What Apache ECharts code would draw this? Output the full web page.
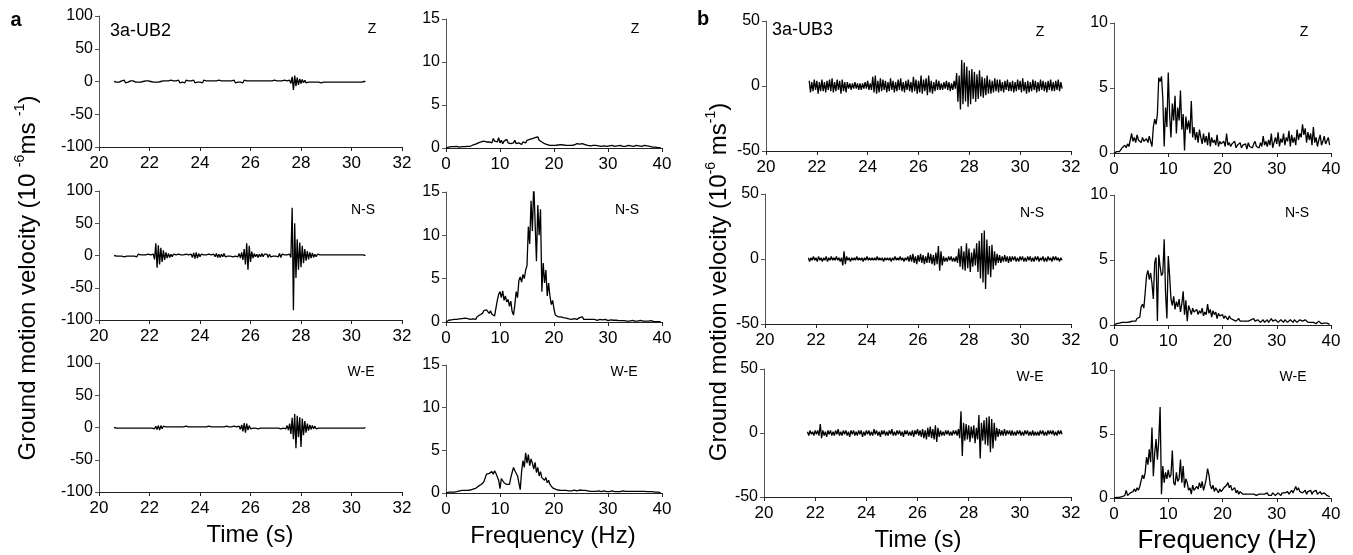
<!DOCTYPE html>
<html><head><meta charset="utf-8">
<script src="https://cdn.jsdelivr.net/npm/echarts@6/dist/echarts.min.js"></script>
<style>html,body{margin:0;padding:0;background:#fff}#c{width:1353px;height:555px}</style>
</head><body><div id="c"></div>
<script>
// ---------- DATA ----------
const timeStartUB2 = 20.6;   // s
const timeStartUB3 = 21.7;   // s
const timeStep = 0.05;       // s
const freqStep = 0.25;       // Hz
const timeTicksUB2 = [-100, -50, 0, 50, 100];
const timeTicksUB3 = [-50, 0, 50];
const specTicksUB2 = [0, 5, 10, 15];
const specTicksUB3 = [0, 5, 10];
const components = ['Z', 'N-S', 'W-E'];

const ub2_Z = [
0,1,-1,1,-1,0,1,-1,2,-2,
1,-1,0,1,-1,1,0,-1,1,-1,
1,-1,1,0,-1,1,-1,1,-1,0,
1,-1,2,-1,1,-1,1,0,-1,1,
-1,1,-2,1,-1,2,-1,1,-1,1,
-1,2,-2,1,-1,1,-2,2,-1,1,
-1,1,-1,2,-2,1,-1,1,-1,1,
-2,2,-1,1,-1,1,-2,1,-1,1,
-1,1,-1,2,-1,1,-1,1,-2,1,
-1,1,-1,1,-1,2,-2,1,-1,1,
-1,1,-2,2,-1,1,-1,1,-1,1,
-1,1,-1,1,-2,1,-1,1,-1,1,
-1,1,-1,1,-1,1,-1,2,-1,1,
-1,1,-1,1,-1,2,-1,1,-2,2,
-3,7,-13,9,-7,6,-5,4,-3,3,
-2,2,-2,1,-1,2,-1,1,-1,1,
-1,1,-1,1,-2,1,-1,1,-1,1,
-1,1,-1,1,-1,1,-1,1,-1,1,
-1,1,-1,2,-1,1,-1,1,-1,1,
-1,1,-1,1,-1,1,-1,1,0,0];

const ub2_NS = [
0,1,-1,1,-1,2,-1,1,-2,1,
-1,1,-1,2,-1,1,-1,1,-2,2,
-1,1,-1,1,-2,1,-1,2,-1,1,
-2,2,-6,19,-19,16,-14,12,-10,8,
-7,5,-4,3,-3,2,-2,2,-1,1,
-2,2,-1,1,-2,1,-1,2,-1,1,
-2,2,-3,4,-5,5,-4,3,-2,2,
-1,1,-2,1,-1,2,-1,1,-2,2,
-2,3,-3,2,-3,2,-2,3,-2,1,
-1,2,-1,1,-2,1,-1,2,-2,3,
-4,5,-7,10,-14,19,-22,15,-10,6,
-4,3,-2,2,-3,2,-2,3,-2,2,
-1,2,-3,2,-2,1,-1,2,-1,2,
-2,3,-3,2,-1,1,-2,1,-1,2,
-3,74,-85,50,-35,25,-22,20,-18,15,
-12,10,-8,7,-6,5,-4,4,-3,2,
-2,2,-1,1,-1,1,-2,1,-1,1,
-1,1,-1,1,-1,1,-1,1,-1,1,
-1,1,-1,1,-1,1,-1,1,-1,1,
-1,1,-1,1,-1,1,-1,1,-1,0];

const ub2_WE = [
0,1,-1,1,-1,1,-1,1,-1,1,
-1,1,-1,1,-1,1,-1,1,-1,1,
-1,1,-1,1,-1,2,-1,1,-1,1,
-1,1,-2,2,-3,3,-4,3,-2,2,
-1,1,-1,1,-1,1,-1,1,-1,1,
-1,1,-2,1,-1,1,-1,2,-1,1,
-1,1,-1,1,-1,1,-2,1,-1,1,
-1,1,-1,1,-1,2,-1,1,-1,1,
-1,1,-2,1,-1,1,-1,1,-1,2,
-1,1,-1,1,-2,2,-1,1,-2,2,
-3,4,-6,7,-8,6,-4,3,-2,1,
-1,1,-1,1,-2,1,-1,1,-1,1,
-1,1,-1,2,-1,1,-1,1,-1,1,
-1,1,-2,1,-1,2,-2,3,-4,6,
-10,15,-18,21,-32,18,-15,16,-30,14,
-12,10,-8,6,-5,4,-3,3,-2,2,
-2,1,-1,2,-1,1,-1,1,-1,1,
-1,1,-1,1,-1,1,-1,1,-1,1,
-1,1,-1,1,-1,1,-1,1,-1,1,
-1,1,-1,1,-1,1,-1,1,-1,0];

const ub3_Z = [
4,-5,3,-4,5,-3,4,-6,3,-4,
5,-4,3,-5,4,-3,5,-4,6,-5,
3,-4,5,-3,4,-6,5,-4,3,-5,
3,-2,2,-3,2,-2,3,-2,2,-3,
2,-3,2,-2,3,-2,4,-3,2,-3,
7,-5,8,-6,4,-5,6,-4,5,-3,
4,-5,3,-4,6,-3,4,-5,3,-4,
5,-3,6,-4,3,-5,4,-3,5,-4,
3,-5,7,-4,5,-6,4,-5,8,-6,
5,-4,6,-7,8,-5,4,-6,3,-4,
5,-3,4,-3,2,-3,3,-2,4,-3,
3,-4,2,-3,4,-2,10,-12,8,-18,
20,-14,18,-12,15,-16,12,-14,13,-10,
11,-12,9,-10,12,-8,7,-9,6,-7,
8,-6,5,-6,4,-5,6,-4,5,-5,
5,-4,3,-5,4,-3,5,-4,3,-4,
4,-5,3,-4,5,-3,4,-5,6,-4,
3,-6,4,-5,3,-4,5,-3,4,-5,
3,-4,5,-3,4,-4,3,-5,4,-3,
5,-4,3,-4,4,-3,5,-4,3,-2];

const ub3_NS = [
1,-2,1,-1,2,-1,1,-2,2,-1,
1,-2,1,-1,2,-2,1,-1,2,-1,
1,-1,2,-1,1,-2,1,-5,6,-4,
2,-1,1,-2,1,-1,1,-1,2,-1,
1,-1,1,-2,1,-1,2,-1,1,-1,
1,-1,1,-1,2,-1,1,-1,1,-2,
1,-1,1,-1,1,-2,1,-1,2,-1,
1,-1,2,-1,1,-2,1,-1,2,-2,
3,-2,4,-3,2,-4,3,-2,4,-3,
3,-4,2,-3,5,-3,4,-4,3,-5,
5,-4,10,-9,6,-5,2,-2,1,-2,
2,-1,2,-2,1,-2,2,-3,8,-6,
10,-8,6,-9,12,-7,8,-10,5,-6,
8,-5,12,-10,14,-15,20,-18,22,-23,
15,-12,10,-14,11,-8,6,-5,4,-3,
3,-3,2,-2,3,-2,2,-3,2,-2,
2,-1,2,-2,1,-2,2,-1,2,-2,
1,-2,2,-1,2,-2,1,-2,2,-1,
2,-2,1,-1,2,-2,1,-2,2,-1,
1,-2,2,-1,2,-1,1,-2,1,-1];

const ub3_WE = [
1,-2,2,-1,1,-2,2,-1,2,-2,
7,-4,2,-2,1,-3,2,-1,2,-2,
1,-2,2,-1,3,-2,1,-2,2,-1,
2,-2,1,-3,2,-1,2,-2,1,-2,
2,-1,2,-3,1,-2,2,-1,2,-2,
1,-2,3,-1,2,-2,1,-3,2,-1,
2,-2,1,-2,2,-1,3,-2,1,-2,
2,-1,2,-2,1,-3,2,-1,2,-2,
1,-2,2,-3,2,-1,3,-2,2,-3,
3,-4,2,-5,4,-3,5,-4,3,-5,
6,-7,4,-3,2,-2,1,-2,2,-1,
2,-2,1,-2,2,-1,2,-2,3,-4,
17,-18,8,-6,7,-5,6,-7,5,-4,
6,-8,4,-5,14,-20,8,-6,10,-9,
12,-10,13,-15,11,-12,8,-6,4,-3,
3,-2,2,-2,3,-2,2,-1,2,-2,
2,-2,1,-2,2,-1,2,-2,1,-2,
2,-1,2,-2,1,-2,2,-2,1,-2,
1,-2,2,-1,2,-2,1,-2,2,-1,
2,-1,2,-2,1,-2,2,-1,2,-1];

const ub2_Z_spec = [
0,0.05,0.1,0.1,0.15,0.1,0.15,0.1,0.2,0.15,0.1,0.2,0.15,0.2,0.15,0.2,
0.2,0.25,0.2,0.3,0.35,0.3,0.45,0.4,0.6,0.5,0.7,0.6,0.8,0.6,0.7,0.9,
0.7,0.9,0.6,1.1,0.8,1.0,0.7,1.2,0.6,0.9,0.5,0.8,0.7,1.0,0.6,0.8,
0.5,0.7,0.6,0.9,0.5,0.7,0.6,0.8,0.4,0.7,0.8,0.6,0.9,0.7,1.0,0.8,
1.1,0.9,1.2,1.0,1.3,0.9,1.1,0.7,0.8,0.5,0.6,0.4,0.5,0.3,0.4,0.3,
0.35,0.3,0.25,0.35,0.3,0.4,0.3,0.35,0.25,0.3,0.35,0.3,0.4,0.3,0.5,0.35,
0.4,0.5,0.3,0.45,0.35,0.5,0.3,0.4,0.35,0.3,0.4,0.25,0.35,0.3,0.25,0.3,
0.3,0.25,0.4,0.2,0.3,0.25,0.35,0.2,0.3,0.25,0.2,0.3,0.25,0.2,0.3,0.25,
0.2,0.3,0.25,0.2,0.3,0.2,0.25,0.3,0.2,0.25,0.3,0.2,0.25,0.3,0.35,0.25,
0.3,0.2,0.25,0.3,0.2,0.25,0.15,0.2,0.15,0.1,0.15,0.1,0.1,0.05,0.1,0.05];

const ub2_NS_spec = [
0,0.1,0.2,0.3,0.25,0.35,0.3,0.4,0.3,0.45,0.35,0.3,0.4,0.35,0.45,0.3,
0.4,0.35,0.3,0.5,0.35,0.4,0.3,0.6,0.5,0.8,0.7,1.0,1.3,1.1,1.4,1.2,
1.0,1.3,0.9,1.1,0.7,0.6,2.5,3.2,3.5,2.8,3.6,2.5,3.0,2.3,2.6,1.8,
2.4,1.2,0.8,2.0,3.5,2.8,4.8,5.2,4.6,5.5,5.0,6.0,6.5,11.0,9.0,14.0,
10.5,16.0,11.5,7.0,13.5,10.0,13.0,3.5,6.8,4.5,6.0,3.0,4.5,3.0,2.0,2.5,
1.5,0.8,0.7,0.6,0.5,0.6,0.45,0.5,0.4,0.45,0.4,0.35,0.4,0.3,0.35,0.4,
0.35,0.3,0.4,0.5,0.35,0.6,0.3,0.35,0.3,0.4,0.3,0.25,0.3,0.25,0.3,0.25,
0.2,0.25,0.3,0.2,0.25,0.2,0.3,0.2,0.15,0.2,0.25,0.15,0.2,0.15,0.2,0.15,
0.15,0.2,0.15,0.1,0.15,0.2,0.1,0.15,0.1,0.15,0.2,0.15,0.1,0.15,0.1,0.15,
0.2,0.15,0.1,0.15,0.1,0.15,0.1,0.1,0.15,0.1,0.05,0.1,0.05,0.1,0.05,0.05];

const ub2_WE_spec = [
0,0.05,0.1,0.1,0.1,0.15,0.1,0.2,0.15,0.2,0.25,0.2,0.3,0.25,0.3,0.35,
0.3,0.4,0.35,0.5,0.45,0.6,0.55,0.7,0.8,0.9,1.0,1.1,1.3,1.5,2.2,2.0,
2.3,2.1,2.5,2.2,2.6,2.3,2.5,1.5,0.5,1.7,1.5,1.2,1.4,1.0,0.8,1.0,
1.8,2.4,3.0,2.6,2.8,2.0,1.2,0.4,2.5,3.8,3.0,4.7,3.5,4.5,3.2,4.0,
3.5,2.8,3.6,2.4,3.0,2.0,2.5,1.8,2.0,1.5,1.8,1.2,1.5,1.0,0.8,0.6,
0.5,0.45,0.4,0.35,0.4,0.3,0.35,0.3,0.25,0.3,0.3,0.25,0.3,0.25,0.3,0.35,
0.3,0.25,0.3,0.35,0.4,0.3,0.25,0.3,0.2,0.25,0.3,0.2,0.25,0.2,0.25,0.2,
0.2,0.25,0.2,0.15,0.2,0.25,0.2,0.15,0.2,0.15,0.2,0.25,0.2,0.15,0.2,0.15,
0.2,0.15,0.2,0.25,0.15,0.2,0.15,0.2,0.15,0.2,0.15,0.2,0.25,0.2,0.15,0.2,
0.15,0.2,0.15,0.2,0.25,0.15,0.1,0.15,0.1,0.15,0.1,0.1,0.05,0.1,0.05,0.05];

const ub3_Z_spec = [
0,0.1,0.1,0.2,0.1,0.2,0.4,0.3,0.6,0.4,0.7,0.5,1.0,1.5,0.9,1.2,
0.8,1.4,1.0,1.1,0.8,1.2,0.9,1.0,1.1,0.8,1.3,0.9,0.5,2.0,2.6,2.2,
3.0,5.8,5.5,5.9,4.2,0.5,3.5,2.0,6.2,3.0,1.2,3.8,2.5,4.4,1.5,3.5,
2.5,4.8,1.8,3.0,0.2,2.8,1.8,2.5,1.5,4.0,1.2,2.0,1.0,1.6,0.8,1.8,
1.2,0.7,1.5,0.8,1.3,0.6,1.6,0.5,1.2,0.8,1.0,0.6,1.4,0.5,0.9,0.7,
0.6,0.9,0.5,1.5,0.6,0.8,0.5,0.7,0.6,0.9,0.4,0.6,0.5,0.8,0.4,0.6,
0.5,0.7,0.3,0.8,0.5,0.6,0.4,0.7,0.9,0.5,0.6,0.4,0.8,0.5,1.3,0.6,
0.9,0.5,1.0,0.6,1.5,0.4,0.8,1.2,0.7,1.6,0.5,1.1,0.8,1.5,0.6,1.2,
0.9,1.7,0.5,1.4,0.8,1.2,0.6,1.8,1.0,1.5,1.2,2.2,1.4,1.9,0.8,1.6,
1.0,1.5,0.6,2.0,0.8,1.2,0.5,1.0,1.4,0.6,0.9,1.3,0.7,0.8,1.2,0.6];

const ub3_NS_spec = [
0,0.05,0.1,0.1,0.15,0.1,0.2,0.15,0.2,0.25,0.2,0.3,0.25,0.35,0.3,0.4,
0.3,0.5,0.4,0.6,1.4,1.6,1.3,2.5,3.8,4.2,3.5,4.0,3.2,2.0,4.8,5.2,
0.3,5.4,4.5,3.8,4.0,6.6,2.5,0.5,5.3,3.8,2.0,1.5,2.2,1.2,1.8,1.4,
2.0,1.0,1.6,2.6,0.8,1.9,0.3,1.5,1.2,0.8,1.3,1.0,0.9,1.2,0.8,1.1,
0.9,1.3,0.7,1.0,0.8,1.6,0.9,1.2,0.6,1.1,0.8,1.0,0.5,0.9,0.7,0.6,
0.8,0.5,0.7,0.6,0.4,0.7,0.5,0.6,0.4,0.5,0.3,0.4,0.5,0.3,0.4,0.3,
0.2,0.3,0.4,0.3,0.2,0.4,0.3,0.5,0.3,0.2,0.4,0.3,0.2,0.3,0.4,0.2,
0.3,0.4,0.2,0.3,0.5,0.3,0.2,0.4,0.3,0.2,0.3,0.4,0.3,0.2,0.4,0.3,
0.2,0.3,0.4,0.3,0.2,0.4,0.3,0.2,0.3,0.4,0.5,0.3,0.2,0.4,0.3,0.2,
0.3,0.2,0.3,0.2,0.3,0.1,0.2,0.3,0.2,0.1,0.2,0.15,0.1,0.15,0.1,0.05];

const ub3_WE_spec = [
0,0.05,0.05,0.1,0.05,0.1,0.1,0.1,0.2,0.6,0.2,0.3,0.4,0.3,0.5,0.7,
0.5,0.8,0.6,0.9,0.8,1.8,1.5,2.0,3.2,2.6,3.8,2.8,5.5,1.7,3.5,4.6,
3.0,4.5,7.1,0.3,2.5,1.2,2.0,1.5,2.2,1.6,1.8,3.7,1.2,1.0,2.0,1.3,
1.5,3.0,1.2,2.5,0.8,1.5,1.2,0.6,0.8,0.3,1.0,0.6,0.5,0.9,0.7,1.2,
0.8,1.3,0.6,1.0,1.5,2.3,1.8,1.0,0.7,1.0,0.5,0.8,0.6,0.4,0.7,0.5,
0.6,0.8,0.9,1.0,1.2,0.8,1.0,0.6,0.5,0.8,0.4,0.6,0.3,0.5,0.4,0.3,
0.4,0.3,0.2,0.3,0.4,0.3,0.2,0.3,0.4,0.2,0.3,0.3,0.2,0.3,0.2,0.3,
0.3,0.4,0.2,0.3,0.2,0.4,0.3,0.2,0.3,0.4,0.3,0.2,0.4,0.3,0.4,0.3,
0.5,0.3,0.4,0.6,0.4,0.5,0.9,0.6,0.8,0.5,0.6,0.4,0.5,0.6,0.3,0.5,
0.4,0.6,0.3,0.5,0.4,0.6,0.3,0.4,0.5,0.3,0.2,0.4,0.3,0.2,0.1,0.1];

// ---------- CHART ----------
const FONT = '"Liberation Sans", Arial, Helvetica, sans-serif';
const timeX = {min: 20, max: 32, interval: 2};
const specX = {min: 0, max: 40, interval: 10};

const panels = [
  // panel a, time
  {vals: ub2_Z,  t0: timeStartUB2, step: timeStep, box: [99, 16, 303, 131], x: timeX, yt: timeTicksUB2},
  {vals: ub2_NS, t0: timeStartUB2, step: timeStep, box: [99, 191, 303, 129], x: timeX, yt: timeTicksUB2},
  {vals: ub2_WE, t0: timeStartUB2, step: timeStep, box: [99, 363, 303, 129], x: timeX, yt: timeTicksUB2},
  // panel a, spectra
  {vals: ub2_Z_spec,  t0: 0, step: freqStep, box: [446, 19, 216, 129], x: specX, yt: specTicksUB2},
  {vals: ub2_NS_spec, t0: 0, step: freqStep, box: [446, 192, 216, 130], x: specX, yt: specTicksUB2},
  {vals: ub2_WE_spec, t0: 0, step: freqStep, box: [446, 365, 216, 128], x: specX, yt: specTicksUB2},
  // panel b, time
  {vals: ub3_Z,  t0: timeStartUB3, step: timeStep, box: [766, 21, 305, 130], x: timeX, yt: timeTicksUB3},
  {vals: ub3_NS, t0: timeStartUB3, step: timeStep, box: [765, 194, 306, 130], x: timeX, yt: timeTicksUB3},
  {vals: ub3_WE, t0: timeStartUB3, step: timeStep, box: [764, 369, 307, 128], x: timeX, yt: timeTicksUB3},
  // panel b, spectra
  {vals: ub3_Z_spec,  t0: 0, step: freqStep, box: [1114, 23, 217, 130], x: specX, yt: specTicksUB3},
  {vals: ub3_NS_spec, t0: 0, step: freqStep, box: [1114, 195, 217, 130], x: specX, yt: specTicksUB3},
  {vals: ub3_WE_spec, t0: 0, step: freqStep, box: [1114, 370, 217, 128], x: specX, yt: specTicksUB3}
];

const axisLineStyle = {color: '#222', width: 1};
const grids = [], xAxes = [], yAxes = [], series = [];
panels.forEach((p, i) => {
  grids.push({left: p.box[0], top: p.box[1], width: p.box[2], height: p.box[3], containLabel: false});
  xAxes.push({
    type: 'value', gridIndex: i, min: p.x.min, max: p.x.max, interval: p.x.interval,
    axisLine: {show: true, onZero: false, lineStyle: axisLineStyle},
    axisTick: {show: true, length: 4, lineStyle: axisLineStyle},
    splitLine: {show: false},
    axisLabel: {color: '#000', fontSize: 17, fontFamily: FONT, margin: 8}
  });
  const yt = p.yt;
  yAxes.push({
    type: 'value', gridIndex: i, min: yt[0], max: yt[yt.length - 1], interval: yt[1] - yt[0],
    axisLine: {show: true, onZero: false, lineStyle: {color: '#555', width: 1}},
    axisTick: {show: true, length: 4, lineStyle: {color: '#555'}},
    splitLine: {show: false},
    axisLabel: {color: '#000', fontSize: 16, fontFamily: FONT, margin: 6}
  });
  series.push({
    type: 'line', xAxisIndex: i, yAxisIndex: i, symbol: 'none', showSymbol: false,
    sampling: null, animation: false,
    lineStyle: {color: '#000', width: 1.3},
    data: p.vals.map((v, k) => [+(p.t0 + k * p.step).toFixed(3), v])
  });
});

function txt(x, y, s, size, opts) {
  return Object.assign({type: 'text', x: x, y: y, silent: true,
    style: {text: s, fill: '#000', font: size + 'px ' + FONT, align: 'center', verticalAlign: 'middle'}}, opts || {});
}
function bold(x, y, s) {
  return {type: 'text', x: x, y: y, style: {text: s, fill: '#000', font: 'bold 20px ' + FONT, align: 'center', verticalAlign: 'middle'}};
}
function yTitle(x, y, s) {
  return {type: 'text', x: x, y: y, rotation: Math.PI / 2,
    style: {text: s, fill: '#000', fontSize: 24, fontFamily: FONT, align: 'center', verticalAlign: 'middle',
      lineHeight: 30,
      rich: {sup: {fontSize: 14, fontFamily: FONT, verticalAlign: 'top', lineHeight: 30, padding: [0, 0, 12, 0]}}}};
}

const graphics = [
  bold(16, 20, 'a'), bold(703, 19, 'b'),
  {type: 'text', x: 110, y: 31, style: {text: '3a-UB2', fill: '#000', font: '18px ' + FONT, align: 'left', verticalAlign: 'middle'}},
  {type: 'text', x: 772, y: 30, style: {text: '3a-UB3', fill: '#000', font: '18px ' + FONT, align: 'left', verticalAlign: 'middle'}},
  txt(372, 29, components[0], 14), txt(635, 29, components[0], 14),
  txt(363, 210, components[1], 14), txt(627, 210, components[1], 14),
  txt(361, 372, components[2], 14), txt(624, 372, components[2], 14),
  txt(1040, 32, components[0], 14), txt(1304, 32, components[0], 14),
  txt(1032, 213, components[1], 14), txt(1297, 213, components[1], 14),
  txt(1030, 377, components[2], 14), txt(1293, 377, components[2], 14),
  txt(250, 535, 'Time (s)', 24), txt(553, 536, 'Frequency (Hz)', 24),
  txt(918, 540, 'Time (s)', 24), txt(1227, 541, 'Frequency (Hz)', 26),
  yTitle(28, 278, 'Ground motion velocity (10 {sup|-6}ms {sup|-1})'),
  yTitle(719, 282, 'Ground motion velocity (10{sup|-6} ms{sup|-1})')
];

const chart = echarts.init(document.getElementById('c'), null, {renderer: 'canvas'});
chart.setOption({
  backgroundColor: '#fff', animation: false,
  grid: grids, xAxis: xAxes, yAxis: yAxes, series: series, graphic: graphics
});
</script></body></html>
